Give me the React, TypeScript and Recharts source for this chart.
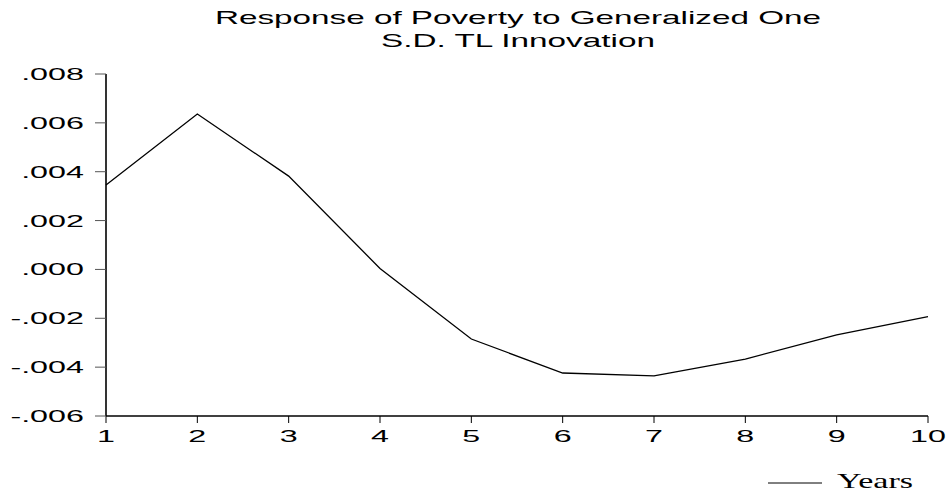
import React from "react";
import { LineChart, Line, XAxis, YAxis } from "recharts";

const years = [1, 2, 3, 4, 5, 6, 7, 8, 9, 10];
const response = [
  0.00346, 0.00636, 0.00382, 0.00004, -0.00285, -0.00424, -0.00436, -0.00367,
  -0.00268, -0.00193,
];
const yTicks = [-0.006, -0.004, -0.002, 0, 0.002, 0.004, 0.006, 0.008];
const titleLines = ["Response of Poverty to Generalized One", "S.D. TL Innovation"];
const legendLabel = "Years";

const data = years.map((y, i) => ({ year: y, value: response[i] }));

const fmt = (v: number) => {
  const s = Math.abs(v).toFixed(3).replace(/^0/, "");
  return v < -1e-9 ? "-" + s : s;
};

const font = "'Liberation Sans', Arial, sans-serif";
const STRETCH = 1.9;

function YTick(props: any) {
  const { x, y, payload } = props;
  return (
    <g transform={`translate(${x},${y})`}>
      <text
        x={0}
        y={6}
        textAnchor="end"
        transform={`scale(${STRETCH},1)`}
        fill="#000"
        fontFamily={font}
        fontSize={17}
      >
        {fmt(payload.value)}
      </text>
    </g>
  );
}

function XTick(props: any) {
  const { x, y, payload } = props;
  return (
    <g transform={`translate(${x},${y})`}>
      <text
        x={0}
        y={17}
        textAnchor="middle"
        transform={`scale(${STRETCH},1)`}
        fill="#000"
        fontFamily={font}
        fontSize={17}
      >
        {payload.value}
      </text>
    </g>
  );
}

export default function App() {
  return (
    <div
      style={{
        position: "absolute",
        left: 0,
        top: 0,
        width: 950,
        height: 495,
        background: "#fff",
      }}
    >
      <LineChart
        width={950}
        height={495}
        data={data}
        margin={{ top: 74, right: 22, bottom: 49, left: 0 }}
      >
        <XAxis
          dataKey="year"
          type="number"
          domain={[1, 10]}
          ticks={years}
          interval={0}
          stroke="#000"
          strokeWidth={1.6}
          tickLine={{ stroke: "#000", strokeWidth: 1 }}
          tickSize={7}
          tickMargin={2}
          tick={<XTick />}
        />
        <YAxis
          type="number"
          domain={[-0.006, 0.008]}
          ticks={yTicks}
          interval={0}
          width={106}
          stroke="#000"
          strokeWidth={1.6}
          tickLine={{ stroke: "#555", strokeWidth: 1 }}
          tickSize={11}
          tickMargin={11}
          tick={<YTick />}
        />
        <Line
          type="linear"
          dataKey="value"
          stroke="#000"
          strokeWidth={1.3}
          dot={false}
          isAnimationActive={false}
        />
      </LineChart>
      <svg
        width={950}
        height={495}
        style={{ position: "absolute", left: 0, top: 0, pointerEvents: "none" }}
      >
        <text
          x={215}
          y={24}
          textLength={606}
          lengthAdjust="spacingAndGlyphs"
          fontFamily={font}
          fontSize={19}
          fill="#000"
        >
          {titleLines[0]}
        </text>
        <text
          x={381}
          y={47}
          textLength={274}
          lengthAdjust="spacingAndGlyphs"
          fontFamily={font}
          fontSize={19}
          fill="#000"
        >
          {titleLines[1]}
        </text>
        <line x1={768} y1={483} x2={822} y2={483} stroke="#000" strokeWidth={1} />
        <text
          x={837}
          y={488}
          textLength={76}
          lengthAdjust="spacingAndGlyphs"
          fontFamily="'Liberation Serif', 'Times New Roman', serif"
          fontSize={21}
          fill="#000"
        >
          {legendLabel}
        </text>
      </svg>
    </div>
  );
}
